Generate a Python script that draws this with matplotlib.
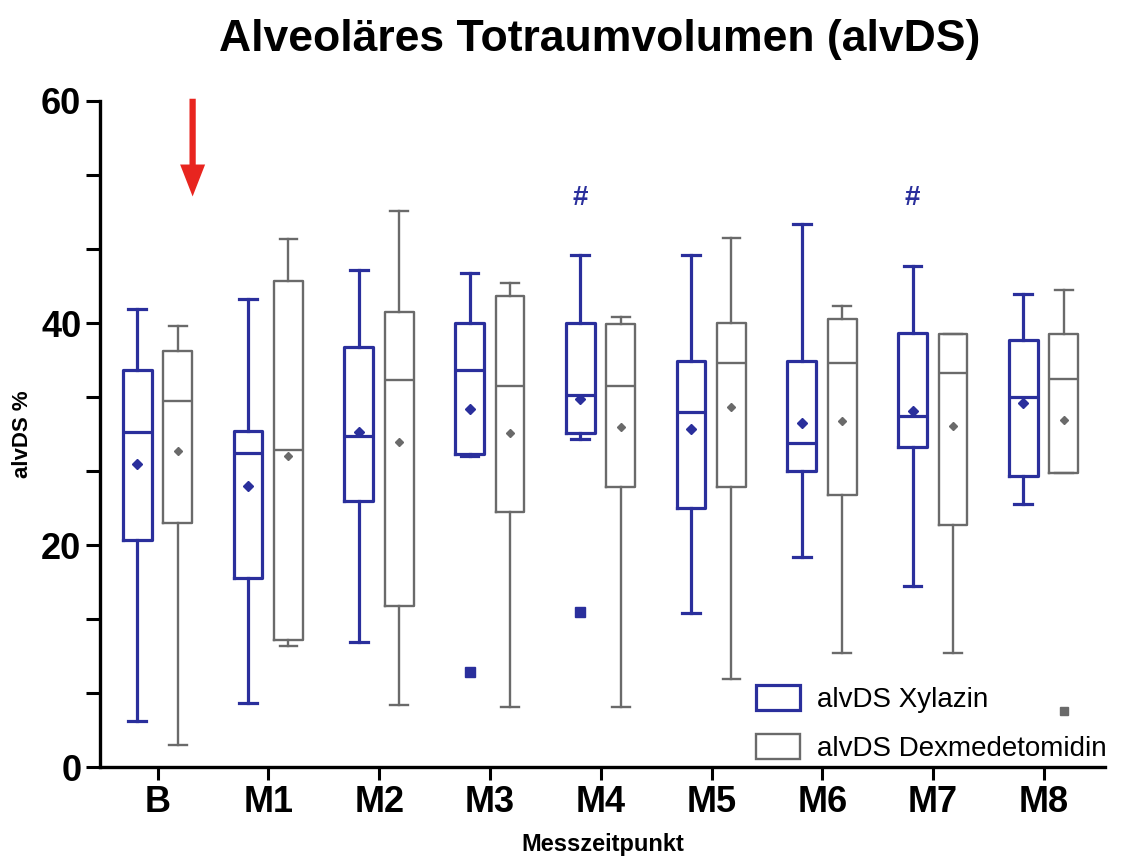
import numpy as np
import matplotlib
matplotlib.use('Agg')
import matplotlib.pyplot as plt
from matplotlib.ticker import AutoMinorLocator
from matplotlib.patches import Patch

plt.rcParams['font.family'] = ['Liberation Sans', 'DejaVu Sans']

labels = ['B', 'M1', 'M2', 'M3', 'M4', 'M5', 'M6', 'M7', 'M8']

# Xylazin: whisker low, Q1, median, Q3, whisker high, mean
xyl_lo   = [4.2, 5.8, 11.3, 28.0, 29.6, 13.9, 18.9, 16.3, 23.7]
xyl_q1   = [20.5, 17.0, 24.0, 28.2, 30.1, 23.3, 26.7, 28.8, 26.2]
xyl_med  = [30.2, 28.3, 29.8, 35.8, 33.5, 32.0, 29.2, 31.6, 33.3]
xyl_q3   = [35.8, 30.3, 37.8, 40.0, 40.0, 36.6, 36.6, 39.1, 38.5]
xyl_hi   = [41.3, 42.2, 44.8, 44.5, 46.1, 46.1, 48.9, 45.1, 42.6]
xyl_mean = [27.3, 25.3, 30.2, 32.3, 33.2, 30.5, 31.0, 32.1, 32.8]
xyl_out  = [[], [], [], [8.6], [14.0], [], [], [], []]

# Dexmedetomidin
dex_lo   = [2.0, 10.9, 5.6, 5.4, 5.4, 7.9, 10.3, 10.3, 26.5]
dex_q1   = [22.0, 11.5, 14.5, 23.0, 25.2, 25.2, 24.5, 21.8, 26.5]
dex_med  = [33.0, 28.6, 34.9, 34.3, 34.3, 36.4, 36.4, 35.5, 35.0]
dex_q3   = [37.5, 43.8, 41.0, 42.4, 39.9, 40.0, 40.4, 39.0, 39.0]
dex_hi   = [39.7, 47.6, 50.1, 43.6, 40.5, 47.7, 41.5, 39.0, 43.0]
dex_mean = [28.5, 28.0, 29.3, 30.1, 30.6, 32.4, 31.2, 30.7, 31.3]
dex_out  = [[], [], [], [], [], [], [], [], [5.1]]

hash_groups = ['M4', 'M7']
hash_y = 51.3

blue = '#2a2f9c'
grey = '#6a6a6a'


def make_stats(lo, q1, med, q3, hi, mean, out):
    stats = []
    for i in range(len(lo)):
        stats.append({'whislo': lo[i], 'q1': q1[i], 'med': med[i], 'q3': q3[i],
                      'whishi': hi[i], 'mean': mean[i], 'fliers': np.array(out[i])})
    return stats


def draw(ax, stats, pos, color, lw, msize, fsize):
    ax.bxp(stats, positions=pos, widths=0.26, capwidths=0.16, showmeans=True,
           patch_artist=False, manage_ticks=False,
           boxprops=dict(color=color, linewidth=lw),
           whiskerprops=dict(color=color, linewidth=lw),
           capprops=dict(color=color, linewidth=lw),
           medianprops=dict(color=color, linewidth=lw),
           meanprops=dict(marker='D', markerfacecolor=color, markeredgecolor=color, markersize=msize),
           flierprops=dict(marker='s', markerfacecolor=color, markeredgecolor=color, markersize=fsize))


fig = plt.figure(figsize=(11.25, 8.63), dpi=100)
ax = fig.add_axes([0.089, 0.111, 0.893, 0.772])

x = np.arange(len(labels))
draw(ax, make_stats(xyl_lo, xyl_q1, xyl_med, xyl_q3, xyl_hi, xyl_mean, xyl_out), x - 0.185, blue, 2.3, 5, 6.5)
draw(ax, make_stats(dex_lo, dex_q1, dex_med, dex_q3, dex_hi, dex_mean, dex_out), x + 0.18, grey, 1.7, 4, 5.5)

for g in hash_groups:
    ax.text(labels.index(g) - 0.185, hash_y, '#', color=blue, fontsize=20,
            fontweight='bold', ha='center', va='center')

# red arrow after baseline
ax.annotate('', xy=(0.315, 51.4), xytext=(0.315, 60.2), annotation_clip=False,
            arrowprops=dict(facecolor='#e8251f', edgecolor='none', width=4.5,
                            headwidth=18, headlength=23, shrink=0))

ax.set_xlim(-0.52, 8.55)
ax.set_ylim(0, 60)
ax.set_xticks(x)
ax.set_xticklabels(labels, fontsize=26, fontweight='bold')
ax.set_yticks([0, 20, 40, 60])
ax.tick_params(axis='y', labelsize=26, width=2.2, length=10)
for t in ax.get_yticklabels():
    t.set_fontweight('bold')
ax.yaxis.set_minor_locator(AutoMinorLocator(3))
ax.tick_params(axis='y', which='minor', width=2.2, length=10)
ax.tick_params(axis='x', width=2.2, length=9)
for s in ['top', 'right']:
    ax.spines[s].set_visible(False)
for s in ['left', 'bottom']:
    ax.spines[s].set_linewidth(2.4)

ax.set_ylabel('alvDS %', fontsize=16, fontweight='bold', labelpad=6)
ax.set_xlabel('Messzeitpunkt', fontsize=17, fontweight='bold', labelpad=10)
fig.suptitle('Alveoläres Totraumvolumen (alvDS)', fontsize=32, fontweight='bold',
             x=0.533, y=0.978)

handles = [Patch(facecolor='white', edgecolor=blue, linewidth=2.3, label='alvDS Xylazin'),
           Patch(facecolor='white', edgecolor=grey, linewidth=1.7, label='alvDS Dexmedetomidin')]
ax.legend(handles=handles, loc='lower left', bbox_to_anchor=(0.628, -0.03), frameon=False,
          fontsize=20, handlelength=1.6, handleheight=1.0, handletextpad=0.6, labelspacing=0.75)

fig.savefig('out.png', dpi=100)
